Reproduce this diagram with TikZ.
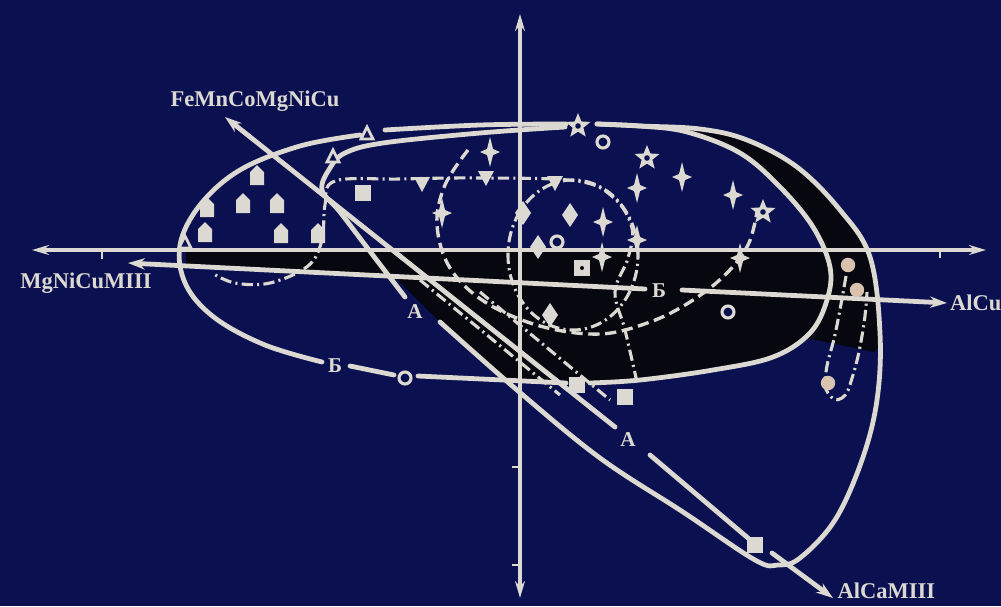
\documentclass[tikz,border=0pt]{standalone}
\usepackage{fontspec}
\setmainfont{Liberation Serif}
\usepackage{xcolor}
\definecolor{cmpbg}{HTML}{0B1150}
\definecolor{cmpink}{HTML}{DCD8D2}
\definecolor{cmpblk}{HTML}{06070F}
\definecolor{cmppeach}{HTML}{D9C2AE}
\usetikzlibrary{arrows.meta,positioning,shapes.geometric}
\tikzset{
  cmpline/.style={draw=cmpink,line width=3.4pt,line cap=round,line join=round},
  cmpaxis/.style={draw=cmpink,line width=2.2pt,{Stealth[length=12pt,width=7pt]}-{Stealth[length=12pt,width=7pt]}},
  cmpray/.style={cmpline,-{Stealth[length=12pt,width=8pt]}},
  cmpdashdot/.style={draw=cmpink,line width=2.2pt,dash pattern=on 8pt off 3pt on 1.5pt off 3pt},
  cmpdashed/.style={draw=cmpink,line width=2.4pt,dash pattern=on 8pt off 4pt},
  cmplabel/.style={text=cmpink,font=\bfseries\fontsize{16}{18}\selectfont,inner sep=1pt},
  cmpmark/.style={text=cmpink,font=\bfseries\fontsize{15}{17}\selectfont,inner sep=0pt},
  cmphouse/.pic={\fill[cmpink] (-7,10) -- (7,10) -- (7,-3) -- (0,-10) -- (-7,-3) -- cycle;},
  cmpspark/.pic={\fill[cmpink] (0,-15) -- (3,-3) -- (10,0) -- (3,3) -- (0,15) -- (-3,3) -- (-10,0) -- (-3,-3) -- cycle;},
  cmpdiam/.pic={\fill[cmpink] (0,-12) -- (8,0) -- (0,12) -- (-8,0) -- cycle;},
  cmpdown/.pic={\fill[cmpink] (-8,-7) -- (8,-7) -- (0,8) -- cycle;},
  cmptri/.pic={\draw[cmpink,line width=2pt,fill=cmpbg] (0,-7) -- (6,5) -- (-6,5) -- cycle;},
  cmpsq/.pic={\fill[cmpink] (-8,-8) rectangle (8,8);},
  cmpring/.pic={\draw[cmpink,line width=2.2pt,fill=cmpbg] (0,0) circle (1.5mm);},
  cmpdot/.pic={\fill[cmppeach] (0,0) circle (1.8mm);},
  cmpstar/.pic={\node[star,star points=5,star point ratio=2.3,fill=cmpink,inner sep=0pt,minimum size=6.5mm]{};
    \fill[cmpbg] (0,0) circle (0.7mm);},
}

\begin{document}
\begin{tikzpicture}[x=0.025cm,y=-0.025cm]
\fill[cmpbg] (0,0) rectangle (1001,606);
\useasboundingbox (0,0) rectangle (1001,606);
  % black areas
\fill[cmpblk] (186,250) -- (829,250)
  -- plot[smooth,tension=0.6] coordinates {(829,250) (827,300) (810,333) (773,357) (713,370) (640,380) (593,383)}
  -- (505,380) -- (440,322) -- (395,277) -- (186,266) -- cycle;
\fill[cmpblk] plot[smooth,tension=0.6] coordinates {(640,126) (700,129) (747,140) (797,167) (840,210) (870,257) (880,333) (874,352)}
  -- (806,338)
  -- plot[smooth,tension=0.6] coordinates {(827,300) (830,267) (813,227) (780,187) (740,153) (687,132) (640,127)} -- cycle;

  % dashed traces
\draw[cmpdashdot] plot[smooth,tension=0.6] coordinates {(637,382) (625,330) (615,292) (628,258) (632,228) (614,198) (577,181) (480,178) (400,179) (335,181) (325,205) (322,240) (308,266) (270,283) (235,283) (212,273)};
\draw[cmpdashed] plot[smooth,tension=0.6] coordinates {(468,150) (445,185) (437,225) (450,268) (485,302) (540,326) (600,334) (650,322) (690,302) (725,275) (748,245) (757,212)};
\draw[cmpdashdot] (573,255) ellipse [x radius=1.625cm,y radius=1.875cm];
\draw[cmpdashdot] plot[smooth,tension=0.8] coordinates {(846,276) (836,330) (826,372) (828,393) (842,398) (853,375) (863,330) (867,292)};
\draw[cmpdashdot] (420,280) -- (560,395);
\draw[cmpdashdot] (480,292) -- (610,400);

  % axes
\coordinate (yTop) at (520,14);
\coordinate (yBot) at (520,598);
\coordinate (xLeft) at (32,250);
\coordinate (xRight) at (986,250);
\draw[cmpaxis] (yBot) -- (yTop);
\draw[cmpaxis] (xLeft) -- (xRight);
\draw[cmpink,line width=2pt] (512,467) -- (520,467) (512,565) -- (520,565)
  (102,250) -- (102,259) (940,250) -- (940,258);

  % composition rays
\coordinate (feTip) at (225,117);
\coordinate (feA) at (615,427);
\coordinate (caA) at (650,455);
\coordinate (caSq) at (748,538);
\coordinate (caB) at (772,553);
\coordinate (caTip) at (833,598);
\coordinate (mgTip) at (128,263);
\coordinate (mgB) at (645,289);
\coordinate (cuB) at (682,290);
\coordinate (cuTip) at (947,303);
\draw[cmpray] (feA) -- (feTip);
\draw[cmpline] (caA) -- (caSq);
\draw[cmpray] (caB) -- (caTip);
\draw[cmpray] (mgB) -- (mgTip);
\draw[cmpray] (cuB) -- (cuTip);

  % main loop
\draw[cmpline] plot[smooth,tension=0.6] coordinates {(360,135) (300,146) (240,170) (200,205) (180,245) (186,285) (215,318) (265,345) (322,362)};
\draw[cmpline] (350,366) -- (394,375);
\draw[cmpline] (418,376) -- (566,383);
\draw[cmpline] plot[smooth,tension=0.6] coordinates {(590,383) (640,380) (713,370) (773,357) (810,333) (827,300) (830,267) (813,227) (780,187) (740,153) (687,132) (640,126) (597,124)};
\draw[cmpline] plot[smooth,tension=0.6] coordinates {(385,130) (480,125) (566,124)};

  % outer loop
\draw[cmpline] plot[smooth,tension=0.6] coordinates {(597,124) (640,126) (700,129) (747,140) (797,167) (840,210) (870,257) (880,333) (877,400) (862,460) (835,520) (800,558) (778,565) (755,560) (683,512) (600,458) (517,390) (440,322)};
\draw[cmpline] plot[smooth,tension=0.6] coordinates {(405,297) (372,254) (340,212) (322,190) (330,168) (345,153) (383,143) (480,133) (565,127)};

  % markers
\foreach \p in {(257,175),(207,207),(243,203),(277,203),(205,232),(281,233),(318,233)}
  \pic at \p {cmphouse};
\foreach \p in {(363,193),(577,385),(625,397),(755,545)}
  \pic at \p {cmpsq};
\foreach \p in {(422,184),(486,178),(555,183)}
  \pic at \p {cmpdown};
\foreach \p in {(490,152),(442,213),(637,188),(682,177),(733,195),(603,222),(637,240),(602,257),(740,258)}
  \pic at \p {cmpspark};
\foreach \p in {(570,215),(538,247),(550,315),(523,213)}
  \pic at \p {cmpdiam};
\foreach \p in {(647,158),(763,212),(578,126)}
  \pic at \p {cmpstar};
\foreach \p in {(603,142),(557,242),(728,312),(405,378)}
  \pic at \p {cmpring};
\foreach \p in {(848,265),(857,290),(828,383)}
  \pic at \p {cmpdot};
\foreach \p in {(367,134),(333,157),(185,243)}
  \pic at \p {cmptri};
\fill[cmpink] (574,260) rectangle (590,276);
\fill[cmpblk] (582,268) circle (0.5mm);

  % labels
\node[cmpmark] (bLeft) at (335,366) {Б};
\node[cmpmark] (bMid) at (659,291) {Б};
\node[cmpmark] (aLeft) at (415,312) {A};
\node[cmpmark] (aLow) at (628,440) {A};
\node[cmplabel] (fe) at (255,101) {FeMnCoMgNiCu};
\node[cmplabel] (mg) at (86,283) {MgNiCuMIII};
\node[cmplabel,right=1pt of cuTip] (alcu) {AlCu};
\node[cmplabel,anchor=west] (alca) at (836,591) {AlCaMIII};
\end{tikzpicture}
\end{document}
